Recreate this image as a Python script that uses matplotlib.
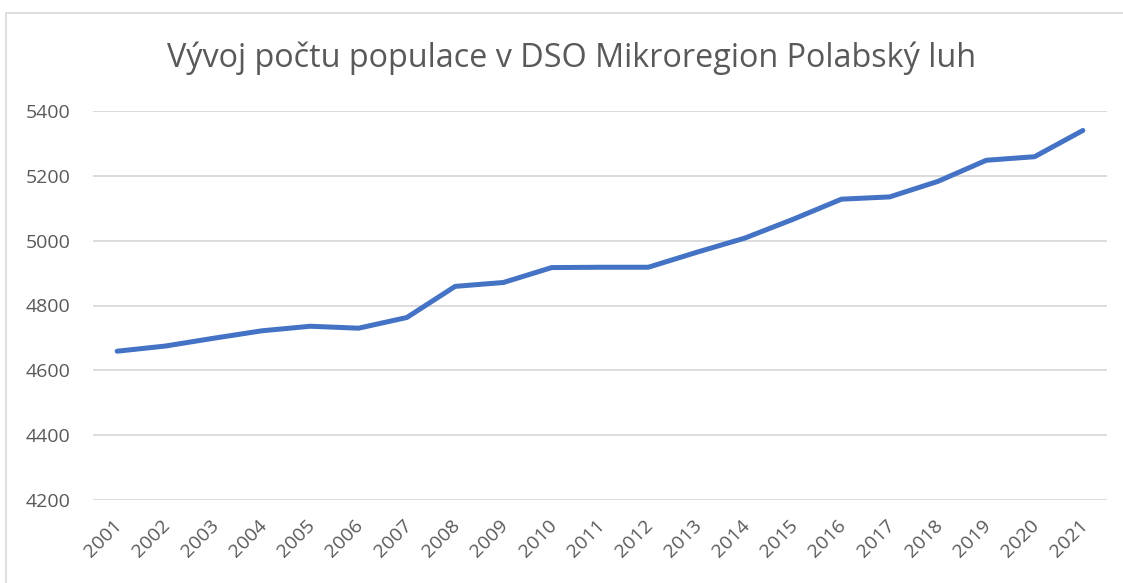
import matplotlib.pyplot as plt
import matplotlib.transforms as mtransforms
from matplotlib.patches import Rectangle

years = ["2001", "2002", "2003", "2004", "2005", "2006", "2007", "2008", "2009", "2010", "2011",
         "2012", "2013", "2014", "2015", "2016", "2017", "2018", "2019", "2020", "2021"]
population = [4659, 4675, 4699, 4722, 4736, 4730, 4763, 4859, 4871, 4917, 4918,
              4918, 4964, 5008, 5066, 5128, 5135, 5183, 5248, 5259, 5340]
y_ticks = [4200, 4400, 4600, 4800, 5000, 5200, 5400]

plt.rcParams['font.family'] = ['Open Sans', 'DejaVu Sans']

fig = plt.figure(figsize=(11.23, 5.83), dpi=100)
ax = fig.add_axes([93 / 1123, 1 - 500 / 583, (1107 - 93) / 1123, (500 - 111) / 583])

# chart area border
fig.patches.append(Rectangle((6 / 1123, -0.01), 1.02, 1 - 13 / 583 + 0.01,
                             transform=fig.transFigure, fill=False,
                             edgecolor='#D9D9D9', linewidth=1.2))

x = list(range(len(years)))
ax.plot(x, population, color='#4472C4', linewidth=3.6, solid_capstyle='round',
        solid_joinstyle='round', zorder=3)

ax.set_xlim(-0.5, len(years) - 0.5)
ax.set_ylim(4200, 5400)
ax.set_yticks(y_ticks)
ax.set_yticklabels([str(v) for v in y_ticks])
ax.set_xticks(x)
ax.set_xticklabels(years, rotation=45, ha='right', rotation_mode='anchor')

ax.grid(axis='y', color='#D9D9D9', linewidth=1.3)
ax.set_axisbelow(True)
for s in ax.spines.values():
    s.set_visible(False)
ax.tick_params(axis='y', length=0, labelsize=14, colors='#595959', pad=16)
ax.tick_params(axis='x', length=0, labelsize=14, colors='#595959', pad=12)

# shift the rotated year labels a little to the left, like Excel does
shift = mtransforms.ScaledTranslation(-3 / 72, 0, fig.dpi_scale_trans)
for lbl in ax.get_xticklabels():
    lbl.set_transform(lbl.get_transform() + shift)

fig.text(0.5089, 1 - 58 / 583, "Vývoj počtu populace v DSO Mikroregion Polabský luh",
         ha='center', va='center', fontsize=23.3, color='#595959')

fig.savefig("out.png", dpi=100, facecolor='white')
